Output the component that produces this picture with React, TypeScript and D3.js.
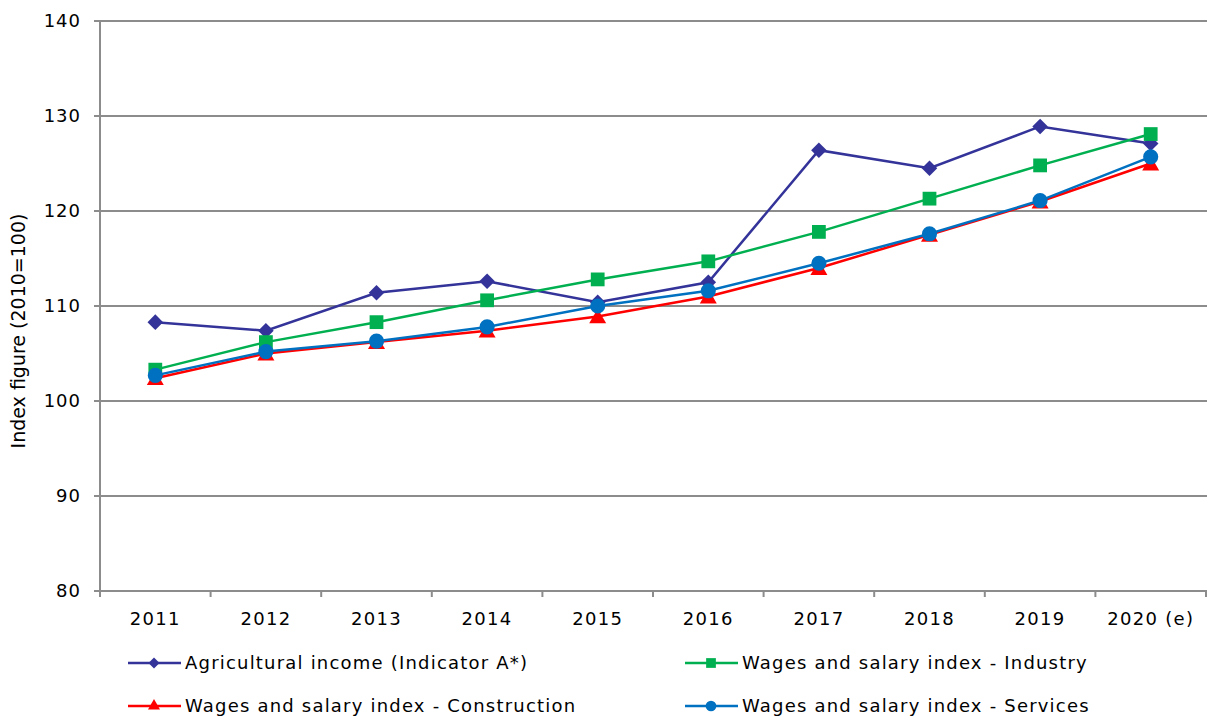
import * as d3 from "d3";
import React from "react";

const years = ["2011", "2012", "2013", "2014", "2015", "2016", "2017", "2018", "2019", "2020 (e)"];
const agricultural = [108.3, 107.4, 111.4, 112.6, 110.4, 112.5, 126.4, 124.5, 128.9, 127.1];
const industry = [103.3, 106.2, 108.3, 110.6, 112.8, 114.7, 117.8, 121.3, 124.8, 128.1];
const construction = [102.4, 105.0, 106.2, 107.4, 108.9, 111.0, 114.0, 117.5, 121.0, 125.0];
const services = [102.7, 105.2, 106.3, 107.8, 110.0, 111.6, 114.5, 117.6, 121.1, 125.7];
const yTicks = [80, 90, 100, 110, 120, 130, 140];

// diamond = square turned 45 degrees; triangle nudged down to sit like Excel's marker
const series = [
  { name: "Agricultural income (Indicator A*)", values: agricultural, color: "#333399", symbol: d3.symbolSquare, size: 121, rotate: 45, dy: 0 },
  { name: "Wages and salary index - Industry", values: industry, color: "#00B050", symbol: d3.symbolSquare, size: 190, rotate: 0, dy: 0 },
  { name: "Wages and salary index - Construction", values: construction, color: "#FF0000", symbol: d3.symbolTriangle, size: 125, rotate: 0, dy: 2 },
  { name: "Wages and salary index - Services", values: services, color: "#0070C0", symbol: d3.symbolCircle, size: 180, rotate: 0, dy: 0 },
];

export default function App() {
  const width = 1207;
  const height = 719;
  const marginLeft = 100;
  const marginRight = 1;
  const marginTop = 21;
  const plotBottom = 591;
  const font = "DejaVu Sans, Verdana, sans-serif";

  const x = d3.scaleBand().domain(years).range([marginLeft, width - marginRight]);
  const y = d3.scaleLinear().domain([80, 140]).range([plotBottom, marginTop]);
  const cx = (i: number) => x(years[i])! + x.bandwidth() / 2;
  const line = d3
    .line<number>()
    .x((_, i) => cx(i))
    .y((d) => y(d));

  const grid = "#8c8c8c";
  const boundaries = years.map((yr) => x(yr)!).concat([x.range()[1]]);

  const legendPos = [
    { lx: 128, ly: 663 },
    { lx: 685, ly: 663 },
    { lx: 128, ly: 706 },
    { lx: 685, ly: 706 },
  ];

  return (
    <svg width={width} height={height} style={{ position: "absolute", left: 0, top: 0, background: "#fff" }}>
      {/* gridlines */}
      {yTicks.map((t) => (
        <line key={t} x1={marginLeft - 6} x2={width} y1={y(t)} y2={y(t)} stroke={grid} strokeWidth={2} />
      ))}
      <line x1={marginLeft} x2={marginLeft} y1={marginTop} y2={plotBottom} stroke={grid} strokeWidth={2} />
      {boundaries.map((b, i) => (
        <line key={i} x1={b} x2={b} y1={plotBottom} y2={plotBottom + 6} stroke={grid} strokeWidth={2} />
      ))}
      {/* y tick labels */}
      {yTicks.map((t) => (
        <text key={t} x={81} y={y(t)} dy="0.36em" textAnchor="end" fontFamily={font} fontSize={18} letterSpacing={1} fill="#000">
          {t}
        </text>
      ))}
      <text
        transform={`translate(25,331) rotate(-90)`}
        textAnchor="middle"
        fontFamily={font}
        fontSize={19}
        fill="#000"
      >
        Index figure (2010=100)
      </text>
      {/* x tick labels */}
      {years.map((yr) => (
        <text key={yr} x={x(yr)! + x.bandwidth() / 2} y={625} textAnchor="middle" fontFamily={font} fontSize={18} letterSpacing={1.3} fill="#000">
          {yr}
        </text>
      ))}
      {/* series */}
      {series.map((s) => (
        <g key={s.name}>
          <path d={line(s.values)!} fill="none" stroke={s.color} strokeWidth={2.5} />
          {s.values.map((v, i) => (
            <path
              key={i}
              transform={`translate(${cx(i)},${y(v) + s.dy}) rotate(${s.rotate})`}
              d={d3.symbol(s.symbol, s.size)()!}
              fill={s.color}
            />
          ))}
        </g>
      ))}
      {/* legend */}
      {series.map((s, i) => {
        const { lx, ly } = legendPos[i];
        return (
          <g key={s.name}>
            <line x1={lx} x2={lx + 53} y1={ly} y2={ly} stroke={s.color} strokeWidth={2.5} />
            <path
              transform={`translate(${lx + 26},${ly}) rotate(${s.rotate})`}
              d={d3.symbol(s.symbol, s.size * 0.5)()!}
              fill={s.color}
            />
            <text x={lx + 57} y={ly} dy="0.36em" fontFamily={font} fontSize={18} letterSpacing={1.2} fill="#000">
              {s.name}
            </text>
          </g>
        );
      })}
    </svg>
  );
}
